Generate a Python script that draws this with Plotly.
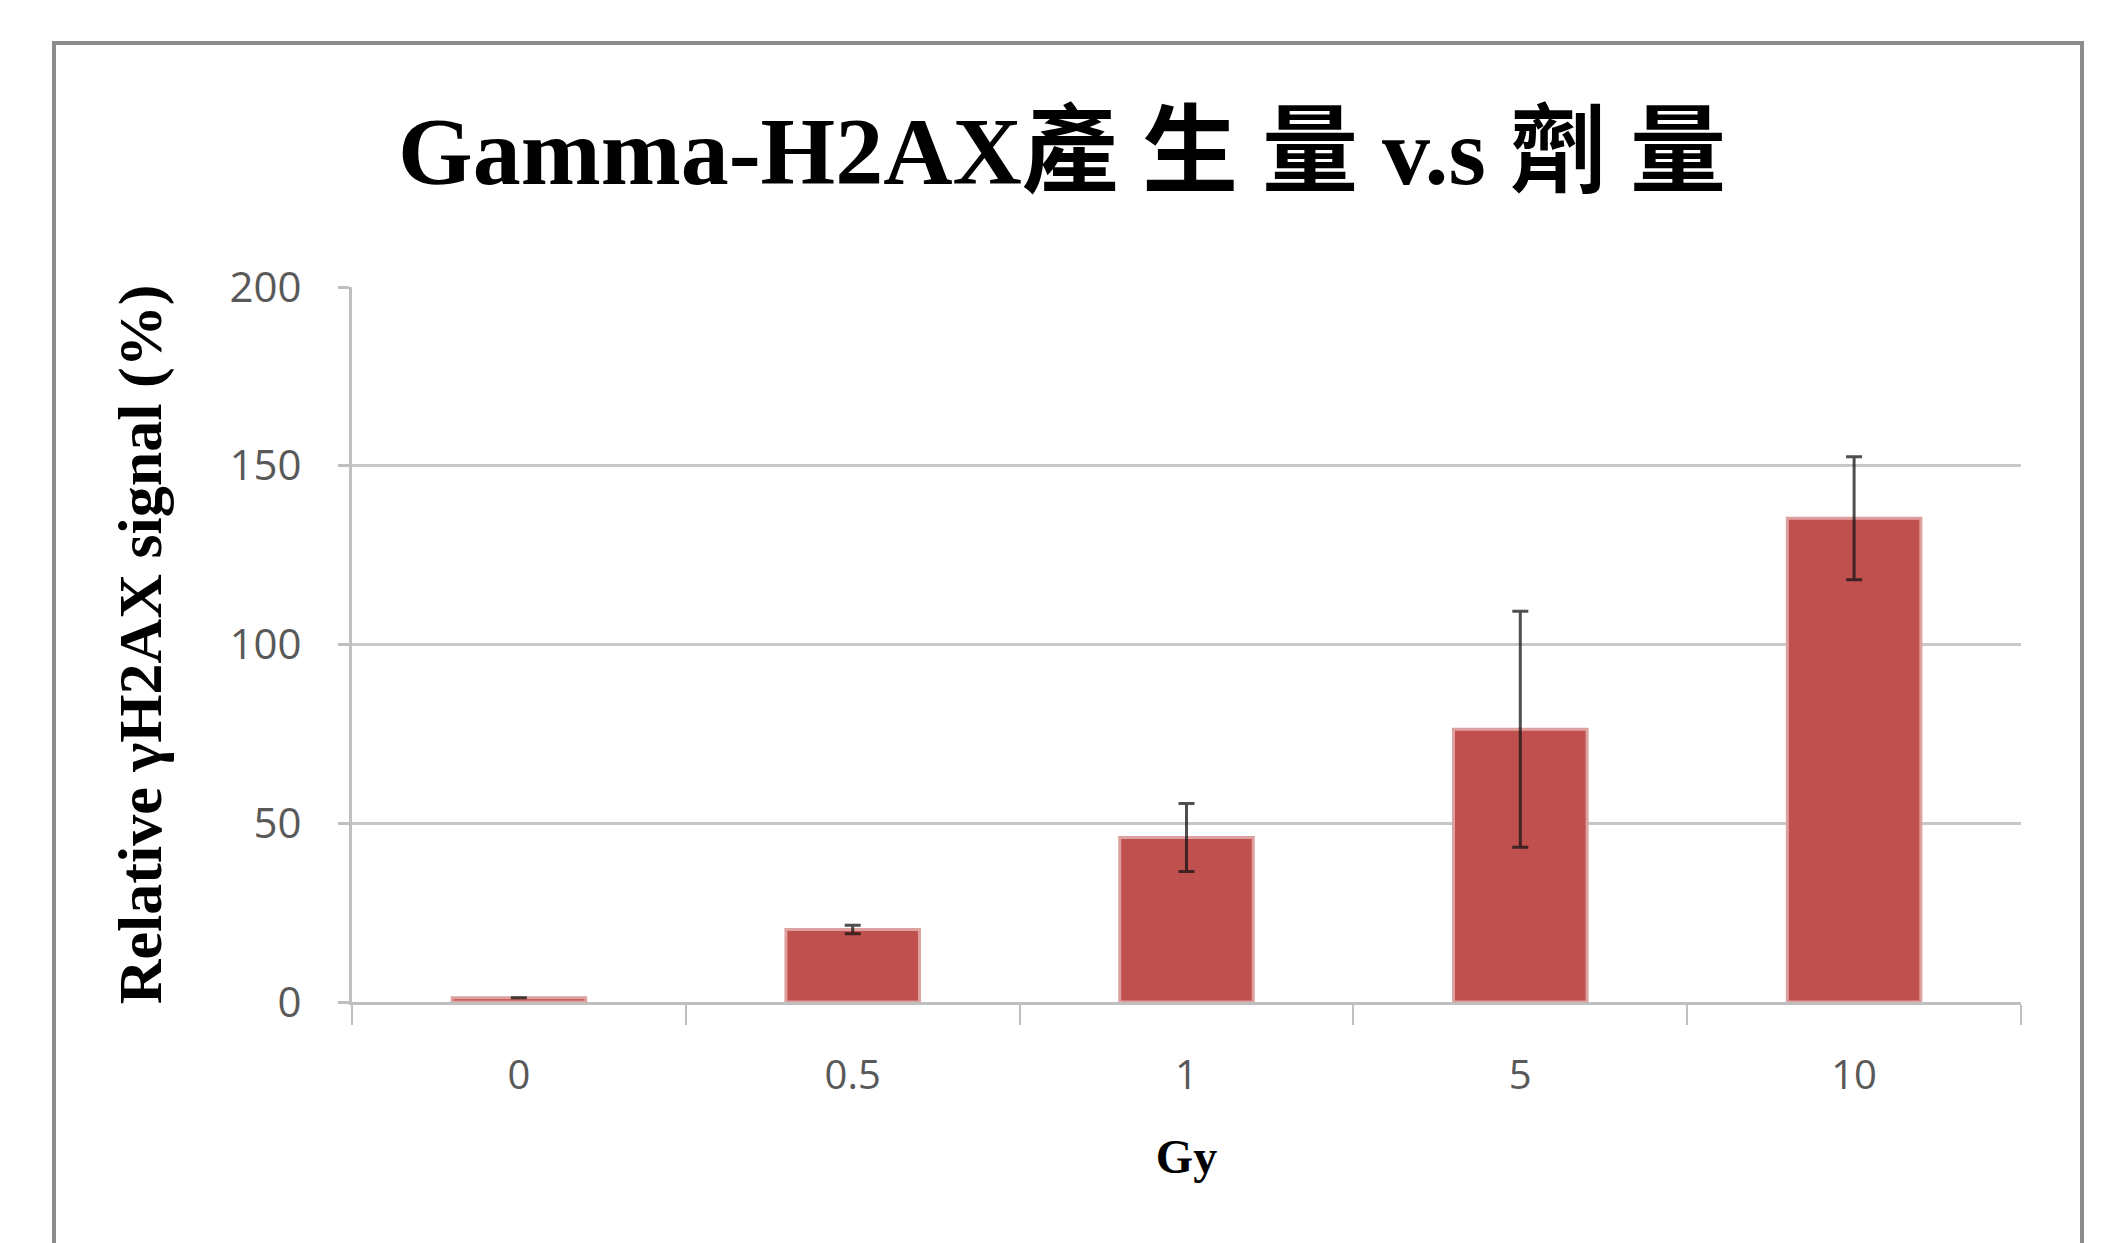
import plotly.graph_objects as go

doses = ["0", "0.5", "1", "5", "10"]
signal = [1.2, 20.3, 46.0, 76.3, 135.3]
err = [0.0, 1.2, 9.5, 33.0, 17.2]
y_ticks = [0, 50, 100, 150, 200]

W, H = 2106, 1243
OFF = 8  # page body margin
L, R, T, B = 344, 93, 279, 249
pw, ph = W - L - R, H - T - B

fig = go.Figure()
fig.add_trace(go.Bar(
    x=doses, y=signal,
    marker=dict(color="#C0504D", line=dict(color="#DDA09E", width=3)),
    width=0.4,
    error_y=dict(type="data", array=err, visible=True,
                 color="rgba(20,20,20,0.75)", thickness=3, width=8),
))

def px_x(p):
    return (p - OFF - L) / pw

def px_y(p):
    return (H - B - (p - OFF)) / ph

fig.add_shape(type="rect", xref="paper", yref="paper",
              x0=px_x(54), x1=px_x(2082), y0=px_y(1320), y1=px_y(43),
              line=dict(color="#8C8C8C", width=4), layer="below")

fig.update_layout(
    width=W, height=H,
    margin=dict(l=L, r=R, t=T, b=B),
    paper_bgcolor="white", plot_bgcolor="white",
    showlegend=False,
    bargap=0.6,
    title=dict(text="<b>Gamma-H2AX產 生 量 v.s 劑 量</b>",
               x=(1062 - OFF) / W, xanchor="center",
               y=1 - (150 - OFF) / H, yanchor="middle",
               font=dict(family="Liberation Serif, Noto Sans CJK TC", size=96, color="black")),
    xaxis=dict(
        type="category",
        showline=True, linecolor="#BFBFBF", linewidth=3,
        ticks="outside", tickson="boundaries", ticklen=20, tickwidth=2, tickcolor="#BFBFBF",
        tickfont=dict(family="Open Sans", size=40, color="#595959"),
        ticklabelstandoff=36,
        showgrid=False,
        title=dict(text="<b>Gy</b>", standoff=40,
                   font=dict(family="Liberation Serif", size=48, color="black")),
    ),
    yaxis=dict(
        range=[0, 200], tickvals=y_ticks,
        showline=True, linecolor="#BFBFBF", linewidth=3,
        ticks="outside", ticklen=11, tickwidth=3, tickcolor="#BFBFBF",
        gridcolor="#C8C8C8", gridwidth=3,
        zeroline=False,
        tickfont=dict(family="Open Sans", size=42, color="#595959"),
        ticklabelstandoff=28,
        title=dict(text="<b>Relative γH2AX signal (%)</b>", standoff=48,
                   font=dict(family="Liberation Serif", size=62, color="black")),
    ),
)

fig.write_html("out.html")
